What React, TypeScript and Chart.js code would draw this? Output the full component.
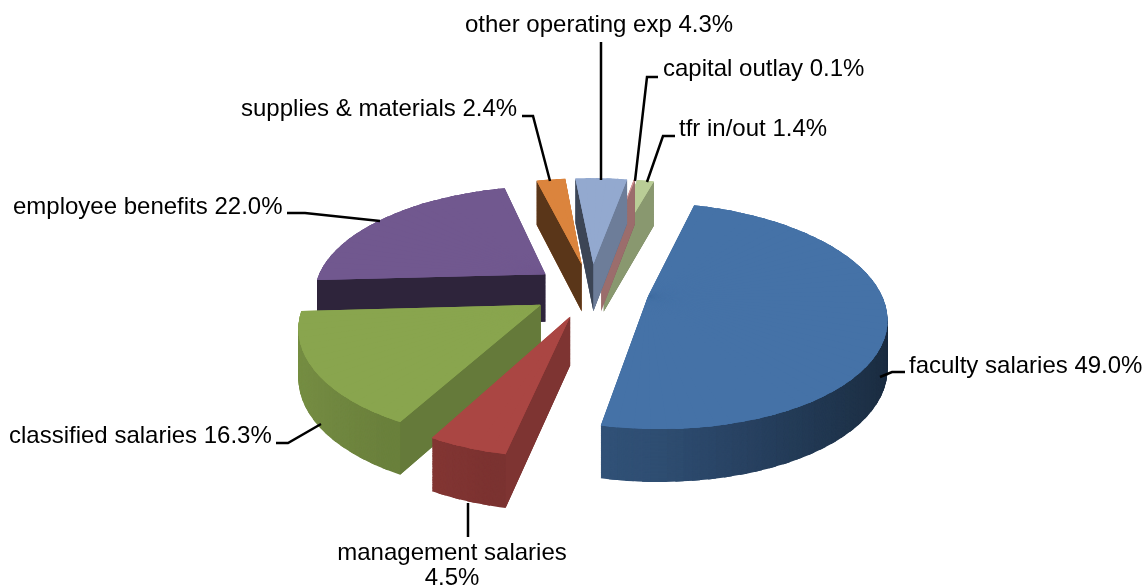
import React, { useEffect, useRef } from "react";
import { Chart, registerables } from "chart.js";

Chart.register(...registerables);

const categories = [
  "faculty salaries",
  "management salaries",
  "classified salaries",
  "employee benefits",
  "supplies & materials",
  "other operating exp",
  "capital outlay",
  "tfr in/out",
];
const shares = [49.0, 4.5, 16.3, 22.0, 2.4, 4.3, 0.1, 1.4];
const sliceColors = ["#4572A7", "#AA4643", "#89A54E", "#71588F", "#DB843D", "#93A9CF", "#D19392", "#B9CD96"];
const explodeOffsets = [200, 200, 200, 200, 200, 200, 200, 200];

const FONT = '24px "Liberation Sans", Arial, sans-serif';
const VIEW = { cx: 591, cy: 290, radius: 232, tilt: 0.4655, dist: 6, depthBase: 25, depthPersp: 23 };

type Pt = [number, number];
const project = (u: number, v: number, t: number): Pt => {
  const w = VIEW.dist / (VIEW.dist - v);
  return [
    VIEW.cx + VIEW.radius * u * w,
    VIEW.cy + VIEW.radius * VIEW.tilt * v * w + t * (VIEW.depthBase + VIEW.depthPersp * w),
  ];
};

const labelLayout = [
  { lines: ["faculty salaries 49.0%"], x: 909, y: 373, align: "left", leader: [[905, 372], [892, 372], [880, 377]] },
  { lines: ["management salaries", "4.5%"], x: 452, y: 560, align: "center", leader: [[468, 537], [468, 503]] },
  { lines: ["classified salaries 16.3%"], x: 9, y: 443, align: "left", leader: [[276, 443], [288, 443], [321, 424]] },
  { lines: ["employee benefits 22.0%"], x: 13, y: 214, align: "left", leader: [[287, 213], [305, 213], [380, 221]] },
  { lines: ["supplies & materials 2.4%"], x: 241, y: 116, align: "left", leader: [[522, 116], [533, 116], [550, 181]] },
  { lines: ["other operating exp 4.3%"], x: 465, y: 32, align: "left", leader: [[601, 42], [601, 180]] },
  { lines: ["capital outlay 0.1%"], x: 663, y: 76, align: "left", leader: [[658, 77], [647, 77], [635, 181]] },
  { lines: ["tfr in/out 1.4%"], x: 679, y: 136, align: "left", leader: [[675, 136], [663, 136], [647, 182]] },
];

function shadeColor(c: string, s: number): string {
  const [r, g, b] = [1, 3, 5].map((i) => parseInt(c.slice(i, i + 2), 16));
  return `rgb(${Math.round(r * s)},${Math.round(g * s)},${Math.round(b * s)})`;
}
const curvedShade = (angle: number) => {
  const s = Math.cos(angle); // +1 facing right, -1 facing left
  return s >= 0 ? 0.68 - 0.31 * s : 0.68 - 0.19 * s;
};

// Draws an arc element as a fan of narrow sectors, each with the affine map that
// puts its apex and two rim points on their projected positions.
function drawProjected(ctx: CanvasRenderingContext2D, el: any, t: number, colorAt: (a: number) => string) {
  const start0 = el.startAngle;
  const end0 = el.endAngle;
  const circ0 = el.circumference;
  const opts = el.options;
  const mid = (start0 + end0) / 2;
  const ex = (opts.offset || 0) / 4 / el.outerRadius;
  const ua = ex * Math.cos(mid);
  const va = ex * Math.sin(mid);
  const pa = project(ua, va, t);
  const n = Math.max(1, Math.ceil((end0 - start0) / 0.06));
  const step = (end0 - start0) / n;
  const r = el.outerRadius;
  for (let i = 0; i < n; i++) {
    const a0 = start0 + i * step;
    const a1 = a0 + step;
    const drawEnd = i < n - 1 ? a1 + step * 0.5 : a1;
    el.startAngle = a0;
    el.endAngle = drawEnd;
    el.circumference = drawEnd - a0;
    const p0 = project(ua + Math.cos(a0), va + Math.sin(a0), t);
    const p1 = project(ua + Math.cos(a1), va + Math.sin(a1), t);
    const c0 = Math.cos(a0) * r, s0 = Math.sin(a0) * r, c1 = Math.cos(a1) * r, s1 = Math.sin(a1) * r;
    const det = c0 * s1 - c1 * s0;
    const bx0 = p0[0] - pa[0], by0 = p0[1] - pa[1], bx1 = p1[0] - pa[0], by1 = p1[1] - pa[1];
    const a = (bx0 * s1 - bx1 * s0) / det;
    const c = (bx1 * c0 - bx0 * c1) / det;
    const b = (by0 * s1 - by1 * s0) / det;
    const d = (by1 * c0 - by0 * c1) / det;
    ctx.save();
    ctx.setTransform(a, b, c, d, pa[0] - a * el.x - c * el.y, pa[1] - b * el.x - d * el.y);
    const over = Object.create(opts);
    Object.defineProperty(over, "backgroundColor", { value: colorAt((a0 + a1) / 2) });
    Object.defineProperty(over, "offset", { value: 0 });
    el.options = over;
    el.draw(ctx);
    ctx.restore();
  }
  el.options = opts;
  el.startAngle = start0;
  el.endAngle = end0;
  el.circumference = circ0;
}

const pie3dPlugin = {
  id: "pie3d",
  beforeDatasetsDraw(chart: any) {
    const ctx: CanvasRenderingContext2D = chart.ctx;
    const arcs = chart.getDatasetMeta(0).data;
    for (let i = arcs.length - 1; i >= 0; i--) {
      const el = arcs[i];
      const color = sliceColors[i];
      const layers = 60;
      for (let l = layers; l >= 1; l--) {
        drawProjected(ctx, el, l / layers, (a) => shadeColor(color, curvedShade(a)));
      }
      // Flat cut faces
      const mid = (el.startAngle + el.endAngle) / 2;
      const ex = (el.options.offset || 0) / 4 / el.outerRadius;
      const ua = ex * Math.cos(mid);
      const va = ex * Math.sin(mid);
      const ins = project(ua + 0.5 * Math.cos(mid), va + 0.5 * Math.sin(mid), 0);
      const apex = project(ua, va, 0);
      const apexB = project(ua, va, 1);
      for (const th of [el.startAngle, el.endAngle]) {
        const rim = project(ua + Math.cos(th), va + Math.sin(th), 0);
        const rimB = project(ua + Math.cos(th), va + Math.sin(th), 1);
        const dx = rim[0] - apex[0];
        const dy = rim[1] - apex[1];
        const crossIn = dx * (ins[1] - apex[1]) - dy * (ins[0] - apex[0]);
        if (crossIn * dx >= 0) continue;
        const outX = (crossIn > 0 ? dy : -dy) / Math.hypot(dx, dy);
        ctx.fillStyle = shadeColor(color, outX > 0.2 ? 0.74 : 0.41);
        ctx.beginPath();
        ctx.moveTo(apex[0], apex[1]);
        ctx.lineTo(rim[0], rim[1]);
        ctx.lineTo(rimB[0], rimB[1]);
        ctx.lineTo(apexB[0], apexB[1]);
        ctx.closePath();
        ctx.fill();
      }
      drawProjected(ctx, el, 0, () => color);
      drawProjected(ctx, el, 0, () => color);
    }
    return false;
  },
  afterDraw(chart: any) {
    const ctx: CanvasRenderingContext2D = chart.ctx;
    ctx.save();
    ctx.strokeStyle = "#000";
    ctx.lineWidth = 2.5;
    ctx.fillStyle = "#000";
    ctx.font = FONT;
    ctx.textBaseline = "alphabetic";
    for (const lab of labelLayout) {
      ctx.beginPath();
      lab.leader.forEach((p, i) => (i ? ctx.lineTo(p[0], p[1]) : ctx.moveTo(p[0], p[1])));
      ctx.stroke();
      ctx.textAlign = lab.align as CanvasTextAlign;
      lab.lines.forEach((line, i) => ctx.fillText(line, lab.x, lab.y + i * 25));
    }
    ctx.restore();
  },
};

export default function App() {
  const ref = useRef<HTMLCanvasElement>(null);
  useEffect(() => {
    document.body.style.margin = "0";
    document.body.style.background = "#fff";
    const chart = new Chart(ref.current as HTMLCanvasElement, {
      type: "pie",
      data: {
        labels: categories,
        datasets: [
          {
            data: shares,
            backgroundColor: sliceColors,
            borderWidth: 0,
            offset: explodeOffsets,
          },
        ],
      },
      options: {
        responsive: false,
        animation: false,
        rotation: 15.6,
        radius: 200,
        events: [],
        plugins: { legend: { display: false }, tooltip: { enabled: false } },
      },
      plugins: [pie3dPlugin],
    } as any);
    return () => chart.destroy();
  }, []);
  return <canvas ref={ref} width={1148} height={588} style={{ display: "block" }} />;
}
